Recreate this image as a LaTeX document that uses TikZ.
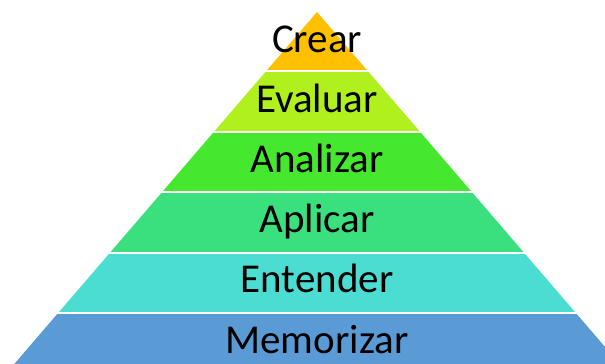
\documentclass[tikz,border=0pt]{standalone}
\usepackage{fontspec}
\setmainfont{Carlito}
\definecolor{crearcol}{HTML}{FFC000}
\definecolor{evalcol}{HTML}{B0F01C}
\definecolor{analcol}{HTML}{45E82E}
\definecolor{aplicol}{HTML}{3BE07E}
\definecolor{entecol}{HTML}{4CDDD2}
\definecolor{memocol}{HTML}{5B9BD5}
\tikzset{
  band/.style={fill=#1},
  sep/.style={white, line width=2pt},
  level/.style={anchor=base, font=\fontsize{41}{49}\selectfont, inner sep=0pt}
}
\begin{document}
\begin{tikzpicture}[x=1pt,y=-1pt]
  \useasboundingbox (0,0) rectangle (605,364);
  \clip (0,0) rectangle (605,364);
  % bandas de la piramide (vertice en 317,12)
  \foreach \ytop/\ybot/\col in {12/71/crearcol, 71/131.5/evalcol, 131.5/192/analcol,
      192/252.5/aplicol, 252.5/313/entecol, 313/400/memocol}{
    \pgfmathsetmacro\wtop{0.86*(\ytop-12)}
    \pgfmathsetmacro\wbot{0.86*(\ybot-12)}
    \path[band=\col] (317-\wtop,\ytop) -- (317+\wtop,\ytop) -- (317+\wbot,\ybot) -- (317-\wbot,\ybot) -- cycle;
  }
  \foreach \y in {71,131.5,192,252.5,313}
    \draw[sep] (0,\y) -- (605,\y);
  % textos
  \node[level] (crear) at (317,52) {Crear};
  \node[level] (evaluar) at (317,112.2) {Evaluar};
  \node[level] (analizar) at (317,172.4) {Analizar};
  \node[level] (aplicar) at (317,232.6) {Aplicar};
  \node[level] (entender) at (317,292.8) {Entender};
  \node[level] (memorizar) at (317,353) {Memorizar};
\end{tikzpicture}
\end{document}
